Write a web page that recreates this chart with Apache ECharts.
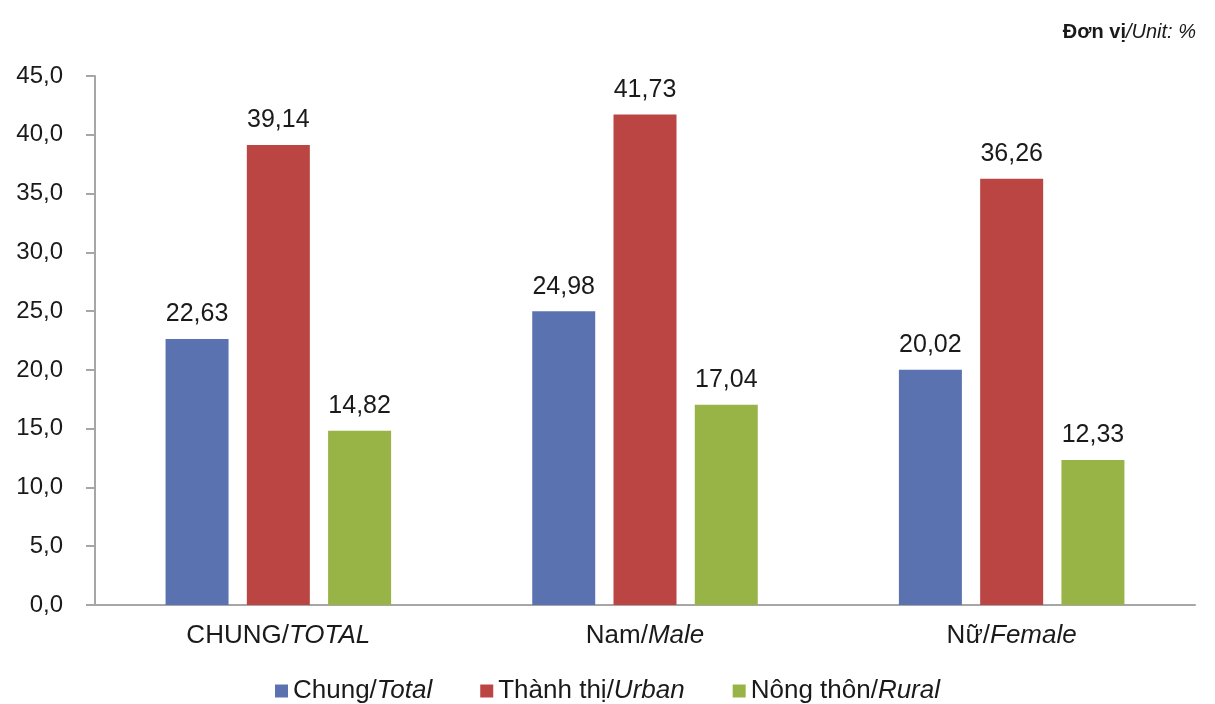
<!DOCTYPE html>
<html>
<head>
<meta charset="utf-8">
<script src="https://cdn.jsdelivr.net/npm/echarts@6/dist/echarts.min.js"></script>
<style>
  html, body { margin: 0; padding: 0; background: #fff; }
  #chart { width: 1215px; height: 704px; }
</style>
</head>
<body>
<div id="chart"></div>
<script>
// Groups along the x axis: [Vietnamese, English]
const categories = [['CHUNG/', 'TOTAL'], ['Nam/', 'Male'], ['Nữ/', 'Female']];

// Series names: [Vietnamese, English]
const seriesNames = [['Chung/', 'Total'], ['Thành thị/', 'Urban'], ['Nông thôn/', 'Rural']];

// Values in percent
const totalValues = [22.63, 24.98, 20.02];
const urbanValues = [39.14, 41.73, 36.26];
const ruralValues = [14.82, 17.04, 12.33];

const colors = ['#5a73b0', '#ba4542', '#98b447'];
const FONT = '"Liberation Sans", Arial, sans-serif';
const INK = '#1a1a1a';

const comma = (v, d) => v.toFixed(d).replace('.', ',');

const chart = echarts.init(document.getElementById('chart'), null, { renderer: 'canvas' });

const valueSets = [totalValues, urbanValues, ruralValues];

const series = seriesNames.map((n, i) => ({
  name: n[0] + n[1],
  type: 'bar',
  data: valueSets[i],
  barWidth: 63,
  barGap: '29%',
  itemStyle: { color: colors[i] },
  label: {
    show: true,
    position: 'top',
    distance: 12,
    fontFamily: FONT,
    fontSize: 25,
    color: INK,
    formatter: p => comma(p.value, 2)
  }
}));

const mixedRich = size => ({
  r: { fontFamily: FONT, fontSize: size, color: INK },
  i: { fontFamily: FONT, fontSize: size, fontStyle: 'italic', color: INK }
});

chart.setOption({
  animation: false,
  backgroundColor: '#ffffff',
  textStyle: { fontFamily: FONT },
  title: {
    text: '{b|Đơn vị}{i|/Unit: %}',
    right: 14,
    top: 17,
    textStyle: {
      fontWeight: 'normal',
      rich: {
        b: { fontFamily: FONT, fontSize: 20, fontWeight: 'bold', color: INK },
        i: { fontFamily: FONT, fontSize: 20, fontWeight: 'normal', fontStyle: 'italic', color: INK }
      }
    }
  },
  legend: {
    bottom: -5,
    left: 'center',
    itemWidth: 13,
    itemHeight: 13,
    itemGap: 48,
    icon: 'rect',
    data: seriesNames.map(n => n[0] + n[1]),
    formatter: name => {
      const n = seriesNames.find(s => s[0] + s[1] === name);
      return '{r|' + n[0] + '}{i|' + n[1] + '}';
    },
    textStyle: { rich: mixedRich(26) }
  },
  grid: { left: 95, right: 20, top: 76, bottom: 99, containLabel: false },
  xAxis: {
    type: 'category',
    data: categories.map(c => c[0] + c[1]),
    axisLine: { show: true, lineStyle: { color: '#a6a6a6', width: 2 } },
    axisTick: { show: false },
    axisLabel: {
      margin: 18,
      formatter: (v, idx) => '{r|' + categories[idx][0] + '}{i|' + categories[idx][1] + '}',
      rich: mixedRich(26)
    }
  },
  yAxis: {
    type: 'value',
    min: 0,
    max: 45,
    interval: 5,
    axisLine: { show: true, lineStyle: { color: '#a6a6a6', width: 2 } },
    axisTick: { show: true, length: 9, lineStyle: { color: '#a6a6a6', width: 2 } },
    splitLine: { show: false },
    axisLabel: {
      margin: 32,
      fontFamily: FONT,
      fontSize: 24,
      color: INK,
      formatter: v => comma(v, 1)
    }
  },
  series
});
</script>
</body>
</html>
